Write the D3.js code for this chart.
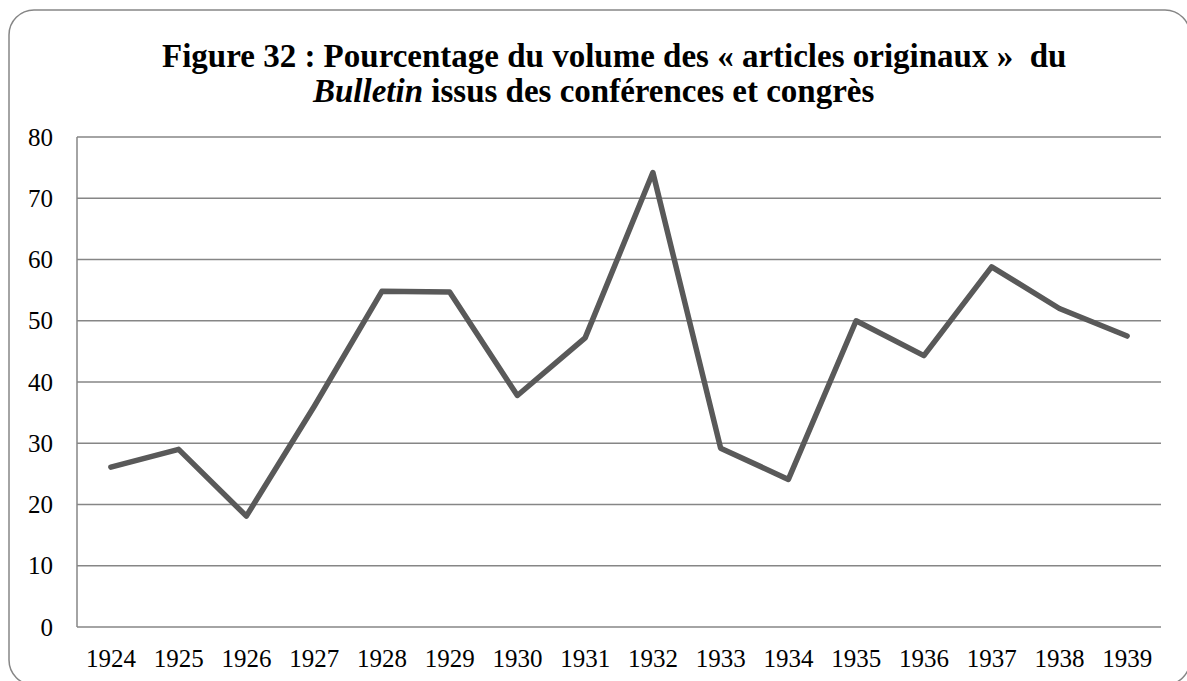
<!DOCTYPE html>
<html><head><meta charset="utf-8">
<script src="https://cdn.jsdelivr.net/npm/d3@7"></script>
<style>body{margin:0;background:#fff;} svg{display:block;} text{font-family:'Liberation Serif','Times New Roman',serif;}</style>
</head><body>
<svg id="c" width="1187" height="681"></svg>
<script>
const years = ["1924","1925","1926","1927","1928","1929","1930","1931","1932","1933","1934","1935","1936","1937","1938","1939"];
const values = [26.1, 29.0, 18.1, 36.0, 54.8, 54.7, 37.8, 47.2, 74.2, 29.2, 24.1, 50.0, 44.3, 58.8, 52.0, 47.5];
const yTicks = [0,10,20,30,40,50,60,70,80];
const titleLine1 = "Figure 32 : Pourcentage du volume des « articles originaux »  du";
const titleLine2Italic = "Bulletin";
const titleLine2Rest = " issus des conférences et congrès";

const svg = d3.select("#c");
const font = "'Liberation Serif','Times New Roman',serif";

svg.append("rect").attr("x",9).attr("y",10).attr("width",1181).attr("height",675)
  .attr("rx",25).attr("ry",25).attr("fill","#fff").attr("stroke","#868686").attr("stroke-width",1.5);

const m = {left:77, right:1161, top:137, bottom:627};
const x = d3.scaleBand().domain(years).range([m.left, m.right]);
const y = d3.scaleLinear().domain([0,80]).range([m.bottom, m.top]);

const grid = svg.append("g");
grid.selectAll("line").data(yTicks).join("line")
  .attr("x1",m.left).attr("x2",m.right)
  .attr("y1",d=>y(d)).attr("y2",d=>y(d))
  .attr("stroke","#868686").attr("stroke-width",1.5);
svg.append("line").attr("x1",m.left).attr("x2",m.left).attr("y1",m.top).attr("y2",m.bottom)
  .attr("stroke","#868686").attr("stroke-width",1.5);

const yAxis = d3.axisLeft(y).tickValues(yTicks).tickSize(0).tickPadding(24);
const ga = svg.append("g").attr("transform",`translate(${m.left},0)`).call(yAxis)
  .attr("font-family",font).style("font-family",font).attr("font-size",25);
ga.select(".domain").remove();
ga.selectAll("text").style("font-family",font).attr("font-size",25).attr("fill","#000");

const xAxis = d3.axisBottom(x).tickSize(0).tickPadding(22);
const gx = svg.append("g").attr("transform",`translate(0,${m.bottom})`).call(xAxis)
  .attr("font-family",font).style("font-family",font).attr("font-size",25);
gx.select(".domain").remove();
gx.selectAll("text").style("font-family",font).attr("font-size",25).attr("fill","#000");

const line = d3.line().x((d,i)=>x(years[i])+x.bandwidth()/2).y(d=>y(d));
svg.append("path").datum(values).attr("d",line).attr("fill","none")
  .attr("stroke","#595959").attr("stroke-width",5.5).attr("stroke-linejoin","round").attr("stroke-linecap","round");

const t = svg.append("text").style("font-family",font).attr("font-weight","bold").attr("font-size",33)
  .attr("text-anchor","start").attr("fill","#000");
t.append("tspan").attr("x",162).attr("y",67).style("white-space","pre").text(titleLine1);
const t2 = t.append("tspan").attr("x",313).attr("y",102);
t2.append("tspan").attr("font-style","italic").text(titleLine2Italic);
t2.append("tspan").text(titleLine2Rest);
</script>
</body></html>
